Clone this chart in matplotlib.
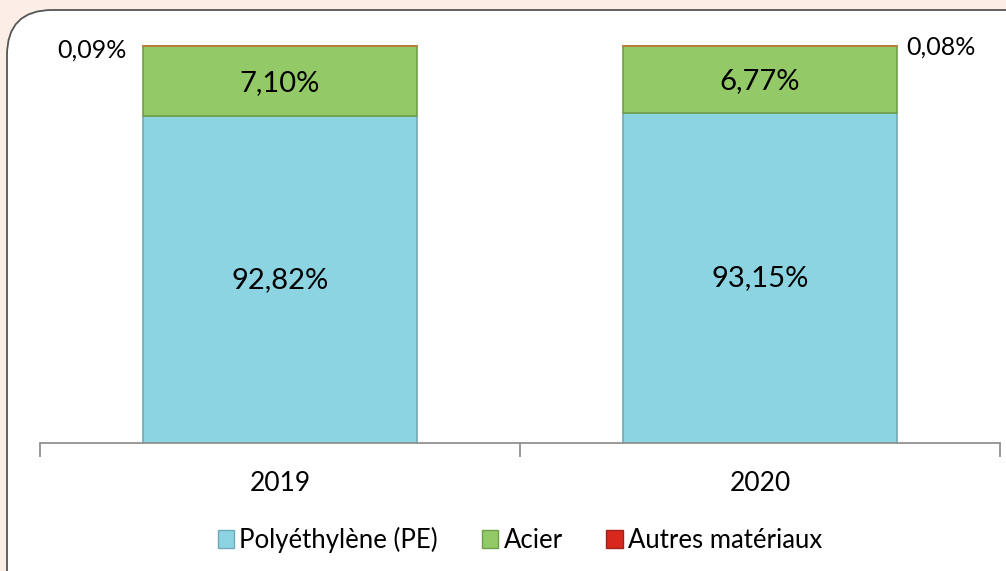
import matplotlib.pyplot as plt
from matplotlib.patches import FancyBboxPatch, Patch
import numpy as np

plt.rcParams['font.family'] = ['Lato', 'DejaVu Sans']

years = ['2019', '2020']
pe = [92.82, 93.15]
acier = [7.10, 6.77]
autres = [0.09, 0.08]
series = ['Polyéthylène (PE)', 'Acier', 'Autres matériaux']
y_min = 60  # l'axe vertical ne commence pas à 0

c_pe = '#8DD4E3'
c_acier = '#93C966'
c_autres = '#D8281E'

fig = plt.figure(figsize=(10.06, 5.71), dpi=100)
fig.patch.set_facecolor('#FBEEE6')

# panneau blanc arrondi (derrière les axes)
panel = FancyBboxPatch((7 / 1006, -0.2), 1.2, 0.2 + (571 - 10) / 571,
                       boxstyle='round,pad=0,rounding_size=0.045',
                       transform=fig.transFigure, facecolor='white',
                       edgecolor='#555555', linewidth=1.3, zorder=-5,
                       mutation_aspect=1.76)
fig.patches.append(panel)

ax = fig.add_axes([40 / 1006, 128 / 571, 960 / 1006, 398 / 571])
ax.set_facecolor('none')
ax.set_zorder(2)

x = np.arange(len(years))
w = 0.57
ax.bar(x, pe, w, color=c_pe, edgecolor='#6FA9B8', linewidth=1.2)
ax.bar(x, acier, w, bottom=pe, color=c_acier, edgecolor='#6E9E48', linewidth=1.2)
bottom3 = [p + a for p, a in zip(pe, acier)]
ax.bar(x, autres, w, bottom=bottom3, color=c_autres, edgecolor='#C07A3A', linewidth=1.2)

for i in range(len(years)):
    ax.text(x[i], (y_min + pe[i]) / 2, f'{pe[i]:.2f}%'.replace('.', ','),
            ha='center', va='center', fontsize=21)
    ax.text(x[i], pe[i] + acier[i] / 2 - 0.2, f'{acier[i]:.2f}%'.replace('.', ','),
            ha='center', va='center', fontsize=21)
# petites valeurs à côté des barres
ax.text(x[0] - w / 2 - 0.035, 99.5, f'{autres[0]:.2f}%'.replace('.', ','),
        ha='right', va='center', fontsize=18)
ax.text(x[1] + w / 2 + 0.02, 99.8, f'{autres[1]:.2f}%'.replace('.', ','),
        ha='left', va='center', fontsize=18)

ax.set_xlim(-0.5, 1.5)
ax.set_ylim(y_min, 100)
ax.set_yticks([])
for s in ['left', 'right', 'top']:
    ax.spines[s].set_visible(False)
ax.spines['bottom'].set_color('#888888')
ax.spines['bottom'].set_linewidth(1.2)
ax.set_xticks([-0.5, 0.5, 1.5])
ax.set_xticklabels([])
ax.set_xticks(x, minor=True)
ax.set_xticklabels(years, minor=True, fontsize=19)
ax.tick_params(axis='x', which='major', length=10, color='#888888', width=1.2)
ax.tick_params(axis='x', which='minor', length=0, pad=20)

handles = [Patch(facecolor=c_pe, edgecolor='#6FA9B8'),
           Patch(facecolor=c_acier, edgecolor='#6E9E48'),
           Patch(facecolor=c_autres, edgecolor='#A0201A')]
fig.legend(handles, series, loc='center', bbox_to_anchor=(520 / 1006, 1 - 540 / 571),
           ncol=3, frameon=False, fontsize=18.5, handlelength=0.65, handleheight=0.65,
           handletextpad=0.2, columnspacing=1.7)

fig.savefig('out.png', dpi=100, facecolor=fig.get_facecolor())
